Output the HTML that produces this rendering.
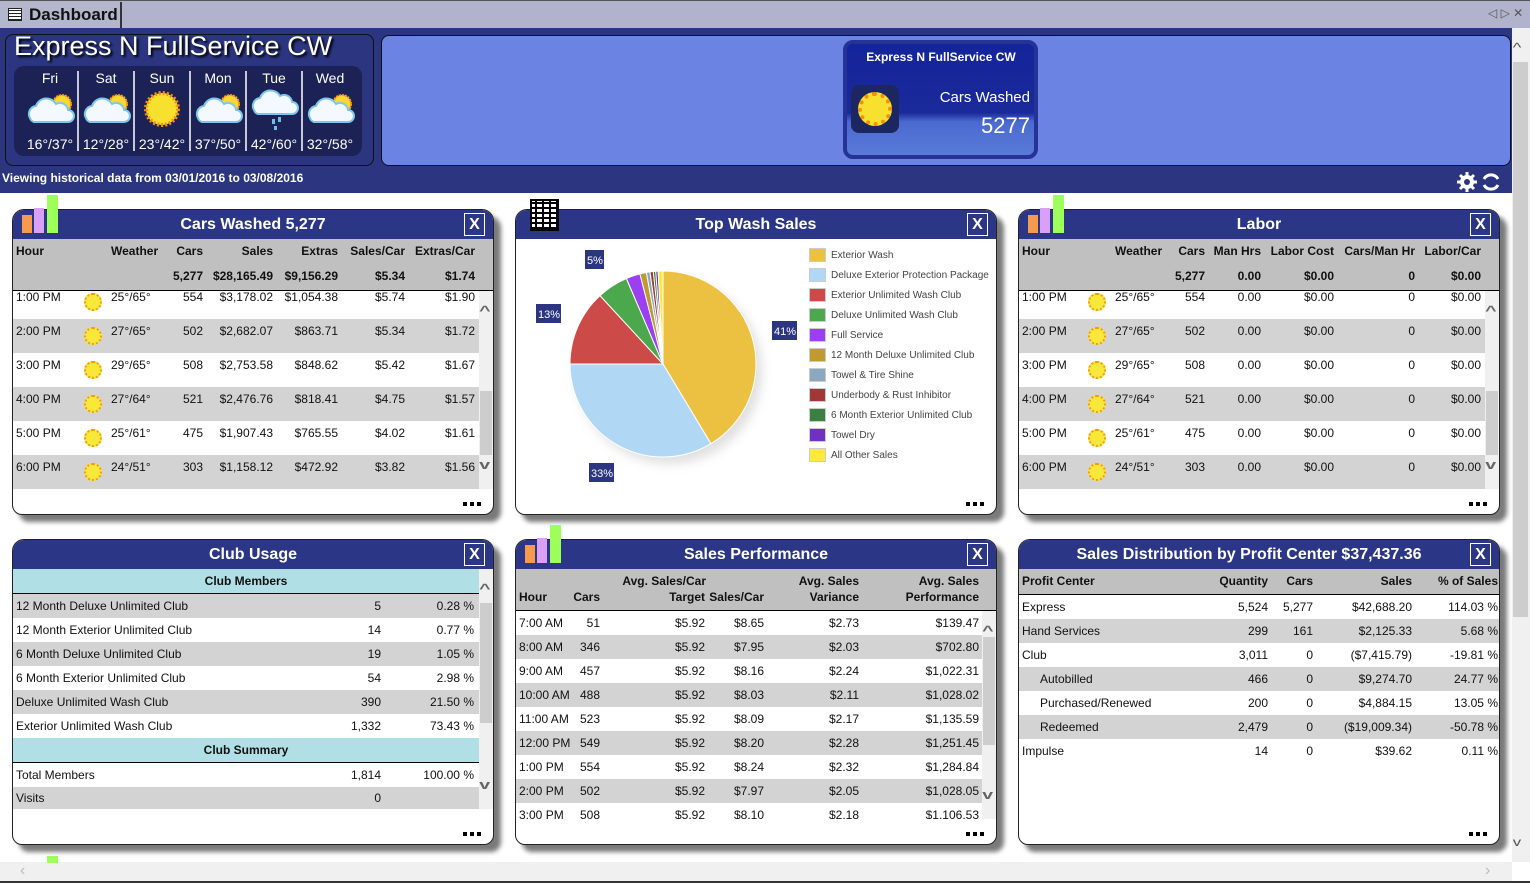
<!DOCTYPE html>
<html><head><meta charset="utf-8">
<style>
*{margin:0;padding:0;box-sizing:border-box}
body{width:1530px;height:883px;overflow:hidden;position:relative;background:#fff;font-family:"Liberation Sans",Arial,sans-serif;font-size:12px;color:#111}
.a{position:absolute}
.panel{position:absolute;width:482px;height:306px;border:1px solid #222;border-radius:12px 12px 10px 10px;overflow:hidden;background:#fff;box-shadow:7px 7px 5px #7a7a7a}
.tb{position:absolute;left:0;top:0;right:0;height:29px;background:#2b3786;color:#fff;font-weight:bold;font-size:16px;text-align:center;line-height:29px}
.x{position:absolute;top:3px;width:21px;height:23px;border:1px solid #fff;color:#fff;font-weight:bold;font-size:16px;line-height:21px;text-align:center}
.dots{position:absolute;bottom:8px;right:12px;width:18px;height:4px;background:repeating-linear-gradient(90deg,#000 0 4px,transparent 4px 7px)}
.hd{position:absolute;left:0;width:482px;background:#c0c0c0;border-bottom:1px solid #000;font-weight:bold}
.R{position:absolute;text-align:right;white-space:nowrap}
.L{position:absolute;white-space:nowrap}
.row{position:absolute;left:0;height:34px;width:482px}
.g{background:#d3d3d3}
.sun{position:absolute;width:18px;height:18px;border-radius:50%;background:#f7e83a;border:2px dotted #f3991c;top:8px}
.sb{position:absolute;background:#f0f0f0;width:14px}
.th{position:absolute;background:#cdcdcd;left:1px;width:12px}
.ar{position:absolute;left:2px;font-size:13px;font-weight:bold;color:#666;transform:scaleX(1.5)}
.r24{position:absolute;left:0;height:24px;line-height:24px;width:482px}
.cy{background:#b0dfe5;border-bottom:1px solid #000;text-align:center;font-weight:bold}
</style></head><body>

<!-- tab bar -->
<div class="a" style="left:0;top:0;width:1530px;height:28px;background:#b0b3cb;border-top:1px solid #555"></div>
<div class="a" style="left:0;top:2px;width:122px;height:26px;background:#b3b6cd;border-right:2px solid #333;font-weight:bold;font-size:17px;line-height:26px;padding-left:29px;color:#111;white-space:nowrap;overflow:hidden">Dashboard</div>
<div class="a" style="left:8px;top:8px;width:14px;height:13px;border:1px solid #222;background:repeating-linear-gradient(0deg,#222 0 1px,#fff 1px 3px)"></div>
<div class="a" style="left:1488px;top:6px;font-size:12px;color:#555">◁ ▷ ✕</div>

<!-- header blue -->
<div class="a" style="left:0;top:28px;width:1512px;height:165px;background:#2b3580"></div>
<div class="a" style="left:5px;top:34px;width:369px;height:132px;background:#2b3580;border:1px solid #111;border-radius:8px"></div>
<div class="a" style="left:14px;top:31px;font-size:27px;color:#fff;text-shadow:2px 2px 2px #000;white-space:nowrap">Express N FullService CW</div>
<div class="a" style="left:14px;top:66px;width:348px;height:90px;background:#1c2255;border-radius:10px"></div>
<svg class="a" style="left:14px;top:66px" width="348" height="90">
<g stroke="#fff" stroke-width="1.5"><line x1="64" y1="5" x2="64" y2="85"/><line x1="120" y1="5" x2="120" y2="85"/><line x1="176" y1="5" x2="176" y2="85"/><line x1="232" y1="5" x2="232" y2="85"/><line x1="288" y1="5" x2="288" y2="85"/></g>
<g font-family="Liberation Sans" font-size="14" fill="#fff" text-anchor="middle">
<text x="36" y="17">Fri</text><text x="92" y="17">Sat</text><text x="148" y="17">Sun</text><text x="204" y="17">Mon</text><text x="260" y="17">Tue</text><text x="316" y="17">Wed</text>
<text x="36" y="83">16°/37°</text><text x="92" y="83">12°/28°</text><text x="148" y="83">23°/42°</text><text x="204" y="83">37°/50°</text><text x="260" y="83">42°/60°</text><text x="316" y="83">32°/58°</text></g>
<defs><g id="pc"><circle cx="10" cy="-6" r="9" fill="#f7d92e" stroke="#f39a1c" stroke-width="2" stroke-dasharray="2 1"/><path d="M-22 8 a8 8 0 0 1 6 -12 a11 11 0 0 1 20 -2 a8 8 0 0 1 12 6 a6 6 0 0 1 0 12 h-34 a6 6 0 0 1 -4 -4z" fill="#f4f9ff" stroke="#7cc8ec" stroke-width="2"/></g></defs>
<use href="#pc" x="38" y="44"/><use href="#pc" x="94" y="44"/><use href="#pc" x="206" y="44"/><use href="#pc" x="318" y="44"/>
<circle cx="148" cy="43" r="16" fill="#f7e02e" stroke="#f5900c" stroke-width="4" stroke-dasharray="2 2"/>
<path d="M240 44 a8 8 0 0 1 6 -12 a11 11 0 0 1 20 -2 a8 8 0 0 1 12 6 a6 6 0 0 1 0 12 h-34 a6 6 0 0 1 -4 -4z" fill="#f4f9ff" stroke="#7cc8ec" stroke-width="2"/>
<rect x="258" y="53" width="3" height="5" fill="#6cc0e8"/><rect x="264" y="51" width="3" height="5" fill="#6cc0e8"/><rect x="260" y="60" width="3" height="4" fill="#6cc0e8"/>
</svg>
<div class="a" style="left:381px;top:35px;width:1130px;height:131px;background:#6b84e3;border:1px solid #111;border-radius:8px"></div>
<div class="a" style="left:843px;top:40px;width:195px;height:119px;border:4px solid #243394;border-radius:10px;background:linear-gradient(#14249a 0%,#1a2a9a 62%,#4a6ad0 70%,#5a7ad8 100%)"></div>
<div class="a" style="left:850px;top:50px;width:182px;text-align:center;color:#fff;font-weight:bold;font-size:12px">Express N FullService CW</div>
<div class="a" style="left:851px;top:85px;width:48px;height:48px;background:#1c2660;border-radius:8px"></div>
<div class="a" style="left:858px;top:92px;width:34px;height:34px;border-radius:50%;background:#f7e02e;border:4px dotted #f5900c"></div>
<div class="a" style="left:900px;top:89px;width:130px;text-align:right;color:#fff;font-size:15px">Cars Washed</div>
<div class="a" style="left:900px;top:113px;width:130px;text-align:right;color:#fff;font-size:22px">5277</div>
<div class="a" style="left:2px;top:171px;color:#fff;font-weight:bold;font-size:12px;white-space:nowrap">Viewing historical data from 03/01/2016 to 03/08/2016</div>
<svg class="a" style="left:1456px;top:171px" width="46" height="22">
<g fill="#fff"><circle cx="11" cy="11" r="7"/><g stroke="#fff" stroke-width="3"><line x1="11" y1="1" x2="11" y2="21"/><line x1="1" y1="11" x2="21" y2="11"/><line x1="4" y1="4" x2="18" y2="18"/><line x1="18" y1="4" x2="4" y2="18"/></g></g>
<circle cx="11" cy="11" r="3" fill="#2b3580"/>
<path d="M28 8 A8 8 0 0 1 42 8 M42 14 A8 8 0 0 1 28 14" stroke="#fff" stroke-width="3" fill="none"/>
</svg>

<!-- page scrollbars -->
<div class="a" style="left:1512px;top:28px;width:18px;height:834px;background:#f0f0f0"></div>
<div class="a" style="left:1513px;top:62px;width:15px;height:555px;background:#cdcdcd"></div>
<div class="a" style="left:1514px;top:40px;font-size:13px;color:#555;transform:scaleX(1.4)">^</div>
<div class="a" style="left:1514px;top:835px;font-size:12px;color:#555;transform:scaleX(1.4)">v</div>
<div class="a" style="left:0;top:862px;width:1512px;height:19px;background:#f0f0f0"></div>
<div class="a" style="left:20px;top:862px;font-size:16px;color:#bbb">‹</div>
<div class="a" style="left:1485px;top:862px;font-size:16px;color:#bbb">›</div>
<div class="a" style="left:0;top:881px;width:1530px;height:2px;background:#333"></div>
<div class="a" style="left:47px;top:856px;width:11px;height:7px;background:#9dff5a"></div>

<!-- ===== Cars Washed ===== -->
<div class="panel" style="left:12px;top:209px">
<div class="tb">Cars Washed 5,277</div><div class="x" style="left:451px">X</div>
<div class="hd" style="top:29px;height:52px">
<span class="L" style="left:3px;top:5px">Hour</span><span class="L" style="left:98px;top:5px">Weather</span>
<span class="R" style="right:292px;top:5px">Cars</span><span class="R" style="right:222px;top:5px">Sales</span><span class="R" style="right:157px;top:5px">Extras</span><span class="R" style="right:90px;top:5px">Sales/Car</span><span class="R" style="right:20px;top:5px">Extras/Car</span>
<span class="R" style="right:292px;top:30px">5,277</span><span class="R" style="right:222px;top:30px">$28,165.49</span><span class="R" style="right:157px;top:30px">$9,156.29</span><span class="R" style="right:90px;top:30px">$5.34</span><span class="R" style="right:20px;top:30px">$1.74</span></div>
<div class="a" style="left:0;top:81px;width:482px;height:198px;overflow:hidden">
<div class="row" style="top:-6px"><span class="L" style="left:3px;top:5px">1:00 PM</span><span class="sun" style="left:71px"></span><span class="L" style="left:98px;top:5px">25°/65°</span><span class="R" style="right:292px;top:5px">554</span><span class="R" style="right:222px;top:5px">$3,178.02</span><span class="R" style="right:157px;top:5px">$1,054.38</span><span class="R" style="right:90px;top:5px">$5.74</span><span class="R" style="right:20px;top:5px">$1.90</span></div>
<div class="row g" style="top:28px"><span class="L" style="left:3px;top:5px">2:00 PM</span><span class="sun" style="left:71px"></span><span class="L" style="left:98px;top:5px">27°/65°</span><span class="R" style="right:292px;top:5px">502</span><span class="R" style="right:222px;top:5px">$2,682.07</span><span class="R" style="right:157px;top:5px">$863.71</span><span class="R" style="right:90px;top:5px">$5.34</span><span class="R" style="right:20px;top:5px">$1.72</span></div>
<div class="row" style="top:62px"><span class="L" style="left:3px;top:5px">3:00 PM</span><span class="sun" style="left:71px"></span><span class="L" style="left:98px;top:5px">29°/65°</span><span class="R" style="right:292px;top:5px">508</span><span class="R" style="right:222px;top:5px">$2,753.58</span><span class="R" style="right:157px;top:5px">$848.62</span><span class="R" style="right:90px;top:5px">$5.42</span><span class="R" style="right:20px;top:5px">$1.67</span></div>
<div class="row g" style="top:96px"><span class="L" style="left:3px;top:5px">4:00 PM</span><span class="sun" style="left:71px"></span><span class="L" style="left:98px;top:5px">27°/64°</span><span class="R" style="right:292px;top:5px">521</span><span class="R" style="right:222px;top:5px">$2,476.76</span><span class="R" style="right:157px;top:5px">$818.41</span><span class="R" style="right:90px;top:5px">$4.75</span><span class="R" style="right:20px;top:5px">$1.57</span></div>
<div class="row" style="top:130px"><span class="L" style="left:3px;top:5px">5:00 PM</span><span class="sun" style="left:71px"></span><span class="L" style="left:98px;top:5px">25°/61°</span><span class="R" style="right:292px;top:5px">475</span><span class="R" style="right:222px;top:5px">$1,907.43</span><span class="R" style="right:157px;top:5px">$765.55</span><span class="R" style="right:90px;top:5px">$4.02</span><span class="R" style="right:20px;top:5px">$1.61</span></div>
<div class="row g" style="top:164px"><span class="L" style="left:3px;top:5px">6:00 PM</span><span class="sun" style="left:71px"></span><span class="L" style="left:98px;top:5px">24°/51°</span><span class="R" style="right:292px;top:5px">303</span><span class="R" style="right:222px;top:5px">$1,158.12</span><span class="R" style="right:157px;top:5px">$472.92</span><span class="R" style="right:90px;top:5px">$3.82</span><span class="R" style="right:20px;top:5px">$1.56</span></div>
<div class="sb" style="left:466px;top:0;height:198px"><div class="th" style="top:100px;height:64px"></div><span class="ar" style="top:12px">^</span><span class="ar" style="top:166px">v</span></div>
</div>
<div class="dots"></div></div>
<div class="a" style="left:22px;top:215px;width:10px;height:18px;background:#f59a4e"></div>
<div class="a" style="left:34px;top:208px;width:10px;height:25px;background:#d9a0f5"></div>
<div class="a" style="left:47px;top:195px;width:11px;height:38px;background:#9dff5a"></div>

<!-- ===== Top Wash Sales ===== -->
<div class="panel" style="left:515px;top:209px">
<div class="tb">Top Wash Sales</div><div class="x" style="left:451px">X</div>
<div class="dots"></div></div>
<div class="a" style="left:530px;top:199px;width:29px;height:32px;background:repeating-linear-gradient(0deg,#000 0 2px,#fff 2px 5px);border:2px solid #000"></div>
<div class="a" style="left:530px;top:199px;width:29px;height:32px;background:repeating-linear-gradient(90deg,transparent 0 5px,#000 5px 7px)"></div>
<svg class="a" style="left:515px;top:238px" width="482" height="275">
<defs><filter id="bl"><feGaussianBlur stdDeviation="5"/></filter></defs>
<circle cx="154" cy="133" r="93" fill="#ccc" filter="url(#bl)" opacity=".6"/>
<g font-family="Liberation Sans" font-size="11" fill="#fff">
<rect x="70" y="12" width="19" height="19" fill="#2b3580"/><text x="72" y="26">5%</text>
<rect x="21" y="66" width="25" height="19" fill="#2b3580"/><text x="23" y="80">13%</text>
<rect x="257" y="83" width="25" height="19" fill="#2b3580"/><text x="259" y="97">41%</text>
<rect x="74" y="225" width="25" height="19" fill="#2b3580"/><text x="76" y="239">33%</text>
</g>
<g font-family="Liberation Sans" font-size="10" fill="#444">
<g stroke="#ccc" stroke-width="1">
<rect x="294.5" y="10.5" width="16" height="13" fill="#ecc040"/>
<rect x="294.5" y="30.5" width="16" height="13" fill="#b0d8f5"/>
<rect x="294.5" y="50.5" width="16" height="13" fill="#cc4a48"/>
<rect x="294.5" y="70.5" width="16" height="13" fill="#4ca84c"/>
<rect x="294.5" y="90.5" width="16" height="13" fill="#9b3ff0"/>
<rect x="294.5" y="110.5" width="16" height="13" fill="#c09a30"/>
<rect x="294.5" y="130.5" width="16" height="13" fill="#8aa8c0"/>
<rect x="294.5" y="150.5" width="16" height="13" fill="#a03838"/>
<rect x="294.5" y="170.5" width="16" height="13" fill="#3a8040"/>
<rect x="294.5" y="190.5" width="16" height="13" fill="#7030c0"/>
<rect x="294.5" y="210.5" width="16" height="13" fill="#ffe840"/></g>
<text x="316" y="20">Exterior Wash</text><text x="316" y="40">Deluxe Exterior Protection Package</text><text x="316" y="60">Exterior Unlimited Wash Club</text><text x="316" y="80">Deluxe Unlimited Wash Club</text><text x="316" y="100">Full Service</text><text x="316" y="120">12 Month Deluxe Unlimited Club</text><text x="316" y="140">Towel &amp; Tire Shine</text><text x="316" y="160">Underbody &amp; Rust Inhibitor</text><text x="316" y="180">6 Month Exterior Unlimited Club</text><text x="316" y="200">Towel Dry</text><text x="316" y="220">All Other Sales</text>
</g>
<g transform="translate(148,126)" stroke="#fff" stroke-width="1">
<path d="M0,0 L0,-93 A93,93 0 0,1 47.9,79.7 Z" fill="#ecc040"/>
<path d="M0,0 L47.9,79.7 A93,93 0 0,1 -93,0 Z" fill="#b0d8f5"/>
<path d="M0,0 L-93,0 A93,93 0 0,1 -63.0,-68.4 Z" fill="#cc4a48"/>
<path d="M0,0 L-63.0,-68.4 A93,93 0 0,1 -36.6,-85.5 Z" fill="#4ca84c"/>
<path d="M0,0 L-36.6,-85.5 A93,93 0 0,1 -23.1,-90.1 Z" fill="#9b3ff0"/>
<path d="M0,0 L-23.1,-90.1 A93,93 0 0,1 -16.6,-91.5 Z" fill="#c09a30"/>
<path d="M0,0 L-16.6,-91.5 A93,93 0 0,1 -13.0,-92.1 Z" fill="#8aa8c0"/>
<path d="M0,0 L-13.0,-92.1 A93,93 0 0,1 -9.7,-92.5 Z" fill="#a03838"/>
<path d="M0,0 L-9.7,-92.5 A93,93 0 0,1 -7.3,-92.7 Z" fill="#3a8040"/>
<path d="M0,0 L-7.3,-92.7 A93,93 0 0,1 -4.9,-92.9 Z" fill="#7030c0"/>
<path d="M0,0 L-4.9,-92.9 A93,93 0 0,1 0,-93 Z" fill="#ffe840"/>
</g>
</svg>

<!-- ===== Labor ===== -->
<div class="panel" style="left:1018px;top:209px">
<div class="tb">Labor</div><div class="x" style="left:451px">X</div>
<div class="hd" style="top:29px;height:52px">
<span class="L" style="left:3px;top:5px">Hour</span><span class="L" style="left:96px;top:5px">Weather</span>
<span class="R" style="right:296px;top:5px">Cars</span><span class="R" style="right:240px;top:5px">Man Hrs</span><span class="R" style="right:167px;top:5px">Labor Cost</span><span class="R" style="right:86px;top:5px">Cars/Man Hr</span><span class="R" style="right:20px;top:5px">Labor/Car</span>
<span class="R" style="right:296px;top:30px">5,277</span><span class="R" style="right:240px;top:30px">0.00</span><span class="R" style="right:167px;top:30px">$0.00</span><span class="R" style="right:86px;top:30px">0</span><span class="R" style="right:20px;top:30px">$0.00</span></div>
<div class="a" style="left:0;top:81px;width:482px;height:198px;overflow:hidden">
<div class="row" style="top:-6px"><span class="L" style="left:3px;top:5px">1:00 PM</span><span class="sun" style="left:69px"></span><span class="L" style="left:96px;top:5px">25°/65°</span><span class="R" style="right:296px;top:5px">554</span><span class="R" style="right:240px;top:5px">0.00</span><span class="R" style="right:167px;top:5px">$0.00</span><span class="R" style="right:86px;top:5px">0</span><span class="R" style="right:20px;top:5px">$0.00</span></div>
<div class="row g" style="top:28px"><span class="L" style="left:3px;top:5px">2:00 PM</span><span class="sun" style="left:69px"></span><span class="L" style="left:96px;top:5px">27°/65°</span><span class="R" style="right:296px;top:5px">502</span><span class="R" style="right:240px;top:5px">0.00</span><span class="R" style="right:167px;top:5px">$0.00</span><span class="R" style="right:86px;top:5px">0</span><span class="R" style="right:20px;top:5px">$0.00</span></div>
<div class="row" style="top:62px"><span class="L" style="left:3px;top:5px">3:00 PM</span><span class="sun" style="left:69px"></span><span class="L" style="left:96px;top:5px">29°/65°</span><span class="R" style="right:296px;top:5px">508</span><span class="R" style="right:240px;top:5px">0.00</span><span class="R" style="right:167px;top:5px">$0.00</span><span class="R" style="right:86px;top:5px">0</span><span class="R" style="right:20px;top:5px">$0.00</span></div>
<div class="row g" style="top:96px"><span class="L" style="left:3px;top:5px">4:00 PM</span><span class="sun" style="left:69px"></span><span class="L" style="left:96px;top:5px">27°/64°</span><span class="R" style="right:296px;top:5px">521</span><span class="R" style="right:240px;top:5px">0.00</span><span class="R" style="right:167px;top:5px">$0.00</span><span class="R" style="right:86px;top:5px">0</span><span class="R" style="right:20px;top:5px">$0.00</span></div>
<div class="row" style="top:130px"><span class="L" style="left:3px;top:5px">5:00 PM</span><span class="sun" style="left:69px"></span><span class="L" style="left:96px;top:5px">25°/61°</span><span class="R" style="right:296px;top:5px">475</span><span class="R" style="right:240px;top:5px">0.00</span><span class="R" style="right:167px;top:5px">$0.00</span><span class="R" style="right:86px;top:5px">0</span><span class="R" style="right:20px;top:5px">$0.00</span></div>
<div class="row g" style="top:164px"><span class="L" style="left:3px;top:5px">6:00 PM</span><span class="sun" style="left:69px"></span><span class="L" style="left:96px;top:5px">24°/51°</span><span class="R" style="right:296px;top:5px">303</span><span class="R" style="right:240px;top:5px">0.00</span><span class="R" style="right:167px;top:5px">$0.00</span><span class="R" style="right:86px;top:5px">0</span><span class="R" style="right:20px;top:5px">$0.00</span></div>
<div class="sb" style="left:466px;top:0;height:198px"><div class="th" style="top:100px;height:64px"></div><span class="ar" style="top:12px">^</span><span class="ar" style="top:166px">v</span></div>
</div>
<div class="dots"></div></div>
<div class="a" style="left:1028px;top:215px;width:10px;height:18px;background:#f59a4e"></div>
<div class="a" style="left:1040px;top:208px;width:10px;height:25px;background:#d9a0f5"></div>
<div class="a" style="left:1053px;top:195px;width:11px;height:38px;background:#9dff5a"></div>

<!-- ===== Club Usage ===== -->
<div class="panel" style="left:12px;top:539px">
<div class="tb">Club Usage</div><div class="x" style="left:451px">X</div>
<div class="r24 cy" style="top:29px;width:466px;height:25px">Club Members</div>
<div class="r24 g" style="top:54px"><span class="L" style="left:3px">12 Month Deluxe Unlimited Club</span><span class="R" style="right:114px">5</span><span class="R" style="right:21px">0.28 %</span></div>
<div class="r24" style="top:78px"><span class="L" style="left:3px">12 Month Exterior Unlimited Club</span><span class="R" style="right:114px">14</span><span class="R" style="right:21px">0.77 %</span></div>
<div class="r24 g" style="top:102px"><span class="L" style="left:3px">6 Month Deluxe Unlimited Club</span><span class="R" style="right:114px">19</span><span class="R" style="right:21px">1.05 %</span></div>
<div class="r24" style="top:126px"><span class="L" style="left:3px">6 Month Exterior Unlimited Club</span><span class="R" style="right:114px">54</span><span class="R" style="right:21px">2.98 %</span></div>
<div class="r24 g" style="top:150px"><span class="L" style="left:3px">Deluxe Unlimited Wash Club</span><span class="R" style="right:114px">390</span><span class="R" style="right:21px">21.50 %</span></div>
<div class="r24" style="top:174px"><span class="L" style="left:3px">Exterior Unlimited Wash Club</span><span class="R" style="right:114px">1,332</span><span class="R" style="right:21px">73.43 %</span></div>
<div class="r24 cy" style="top:198px;width:466px;height:25px">Club Summary</div>
<div class="r24" style="top:223px"><span class="L" style="left:3px">Total Members</span><span class="R" style="right:114px">1,814</span><span class="R" style="right:21px">100.00 %</span></div>
<div class="r24 g" style="top:247px;height:22px;line-height:22px"><span class="L" style="left:3px">Visits</span><span class="R" style="right:114px">0</span></div>
<div class="sb" style="left:466px;top:29px;height:240px"><div class="th" style="top:34px;height:120px"></div><span class="ar" style="top:12px">^</span><span class="ar" style="top:208px">v</span></div>
<div class="dots"></div></div>

<!-- ===== Sales Performance ===== -->
<div class="panel" style="left:515px;top:539px">
<div class="tb">Sales Performance</div><div class="x" style="left:451px">X</div>
<div class="hd" style="top:29px;height:42px">
<span class="L" style="left:3px;top:21px">Hour</span><span class="R" style="right:398px;top:21px">Cars</span>
<span class="R" style="right:292px;top:5px">Avg. Sales/Car</span><span class="R" style="right:293px;top:21px">Target</span><span class="R" style="right:234px;top:21px">Sales/Car</span>
<span class="R" style="right:139px;top:5px">Avg. Sales</span><span class="R" style="right:139px;top:21px">Variance</span>
<span class="R" style="right:19px;top:5px">Avg. Sales</span><span class="R" style="right:19px;top:21px">Performance</span></div>
<div class="a" style="left:0;top:71px;width:482px;height:208px;overflow:hidden">
<div class="r24" style="top:0"><span class="L" style="left:3px">7:00 AM</span><span class="R" style="right:398px">51</span><span class="R" style="right:293px">$5.92</span><span class="R" style="right:234px">$8.65</span><span class="R" style="right:139px">$2.73</span><span class="R" style="right:19px">$139.47</span></div>
<div class="r24 g" style="top:24px"><span class="L" style="left:3px">8:00 AM</span><span class="R" style="right:398px">346</span><span class="R" style="right:293px">$5.92</span><span class="R" style="right:234px">$7.95</span><span class="R" style="right:139px">$2.03</span><span class="R" style="right:19px">$702.80</span></div>
<div class="r24" style="top:48px"><span class="L" style="left:3px">9:00 AM</span><span class="R" style="right:398px">457</span><span class="R" style="right:293px">$5.92</span><span class="R" style="right:234px">$8.16</span><span class="R" style="right:139px">$2.24</span><span class="R" style="right:19px">$1,022.31</span></div>
<div class="r24 g" style="top:72px"><span class="L" style="left:3px">10:00 AM</span><span class="R" style="right:398px">488</span><span class="R" style="right:293px">$5.92</span><span class="R" style="right:234px">$8.03</span><span class="R" style="right:139px">$2.11</span><span class="R" style="right:19px">$1,028.02</span></div>
<div class="r24" style="top:96px"><span class="L" style="left:3px">11:00 AM</span><span class="R" style="right:398px">523</span><span class="R" style="right:293px">$5.92</span><span class="R" style="right:234px">$8.09</span><span class="R" style="right:139px">$2.17</span><span class="R" style="right:19px">$1,135.59</span></div>
<div class="r24 g" style="top:120px"><span class="L" style="left:3px">12:00 PM</span><span class="R" style="right:398px">549</span><span class="R" style="right:293px">$5.92</span><span class="R" style="right:234px">$8.20</span><span class="R" style="right:139px">$2.28</span><span class="R" style="right:19px">$1,251.45</span></div>
<div class="r24" style="top:144px"><span class="L" style="left:3px">1:00 PM</span><span class="R" style="right:398px">554</span><span class="R" style="right:293px">$5.92</span><span class="R" style="right:234px">$8.24</span><span class="R" style="right:139px">$2.32</span><span class="R" style="right:19px">$1,284.84</span></div>
<div class="r24 g" style="top:168px"><span class="L" style="left:3px">2:00 PM</span><span class="R" style="right:398px">502</span><span class="R" style="right:293px">$5.92</span><span class="R" style="right:234px">$7.97</span><span class="R" style="right:139px">$2.05</span><span class="R" style="right:19px">$1,028.05</span></div>
<div class="r24" style="top:192px"><span class="L" style="left:3px">3:00 PM</span><span class="R" style="right:398px">508</span><span class="R" style="right:293px">$5.92</span><span class="R" style="right:234px">$8.10</span><span class="R" style="right:139px">$2.18</span><span class="R" style="right:19px">$1,106.53</span></div>
<div class="sb" style="left:466px;top:0;height:208px"><div class="th" style="top:26px;height:108px"></div><span class="ar" style="top:12px">^</span><span class="ar" style="top:176px">v</span></div>
</div>
<div class="dots"></div></div>
<div class="a" style="left:525px;top:545px;width:10px;height:18px;background:#f59a4e"></div>
<div class="a" style="left:537px;top:538px;width:10px;height:25px;background:#d9a0f5"></div>
<div class="a" style="left:550px;top:525px;width:11px;height:38px;background:#9dff5a"></div>

<!-- ===== Sales Distribution ===== -->
<div class="panel" style="left:1018px;top:539px">
<div class="tb" style="padding-right:20px">Sales Distribution by Profit Center $37,437.36</div><div class="x" style="left:451px">X</div>
<div class="hd" style="top:29px;height:26px;line-height:25px">
<span class="L" style="left:3px">Profit Center</span><span class="R" style="right:233px">Quantity</span><span class="R" style="right:188px">Cars</span><span class="R" style="right:89px">Sales</span><span class="R" style="right:3px">% of Sales</span></div>
<div class="r24" style="top:55px"><span class="L" style="left:3px">Express</span><span class="R" style="right:233px">5,524</span><span class="R" style="right:188px">5,277</span><span class="R" style="right:89px">$42,688.20</span><span class="R" style="right:3px">114.03 %</span></div>
<div class="r24 g" style="top:79px"><span class="L" style="left:3px">Hand Services</span><span class="R" style="right:233px">299</span><span class="R" style="right:188px">161</span><span class="R" style="right:89px">$2,125.33</span><span class="R" style="right:3px">5.68 %</span></div>
<div class="r24" style="top:103px"><span class="L" style="left:3px">Club</span><span class="R" style="right:233px">3,011</span><span class="R" style="right:188px">0</span><span class="R" style="right:89px">($7,415.79)</span><span class="R" style="right:3px">-19.81 %</span></div>
<div class="r24 g" style="top:127px"><span class="L" style="left:21px">Autobilled</span><span class="R" style="right:233px">466</span><span class="R" style="right:188px">0</span><span class="R" style="right:89px">$9,274.70</span><span class="R" style="right:3px">24.77 %</span></div>
<div class="r24" style="top:151px"><span class="L" style="left:21px">Purchased/Renewed</span><span class="R" style="right:233px">200</span><span class="R" style="right:188px">0</span><span class="R" style="right:89px">$4,884.15</span><span class="R" style="right:3px">13.05 %</span></div>
<div class="r24 g" style="top:175px"><span class="L" style="left:21px">Redeemed</span><span class="R" style="right:233px">2,479</span><span class="R" style="right:188px">0</span><span class="R" style="right:89px">($19,009.34)</span><span class="R" style="right:3px">-50.78 %</span></div>
<div class="r24" style="top:199px"><span class="L" style="left:3px">Impulse</span><span class="R" style="right:233px">14</span><span class="R" style="right:188px">0</span><span class="R" style="right:89px">$39.62</span><span class="R" style="right:3px">0.11 %</span></div>
<div class="dots"></div></div>

</body></html>
